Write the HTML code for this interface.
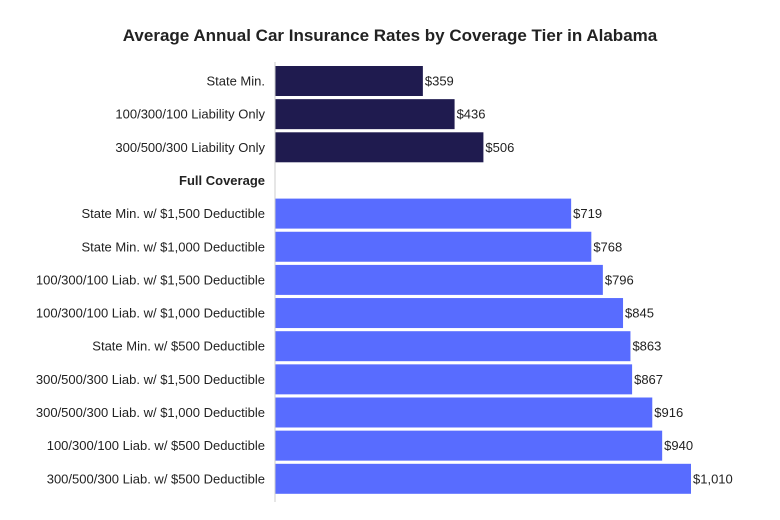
<!DOCTYPE html>
<html><head><meta charset="utf-8"><style>
body{margin:0;background:#fff;}
svg{display:block;font-family:"Liberation Sans",sans-serif;}
</style></head><body>
<svg id="chart" width="780" height="520">
<text x="390" y="41" text-anchor="middle" font-size="17" font-weight="bold" fill="#222">Average Annual Car Insurance Rates by Coverage Tier in Alabama</text>
<g id="bars"></g>
<line x1="275" y1="62" x2="275" y2="502" stroke="#ccc" stroke-width="1"/>
</svg>
<script>
const categories=["State Min.","100/300/100 Liability Only","300/500/300 Liability Only","Full Coverage","State Min. w/ $1,500 Deductible","State Min. w/ $1,000 Deductible","100/300/100 Liab. w/ $1,500 Deductible","100/300/100 Liab. w/ $1,000 Deductible","State Min. w/ $500 Deductible","300/500/300 Liab. w/ $1,500 Deductible","300/500/300 Liab. w/ $1,000 Deductible","100/300/100 Liab. w/ $500 Deductible","300/500/300 Liab. w/ $500 Deductible"];
const values=[359,436,506,null,719,768,796,845,863,867,916,940,1010];
const groups=["liability","liability","liability","header","full","full","full","full","full","full","full","full","full"];
const x0=275,xScale=v=>x0+v*(416/1010);
const yCenter=i=>81+i*33.15;
const g=document.getElementById('bars');
const ns="http://www.w3.org/2000/svg";
categories.forEach((c,i)=>{
  const t=document.createElementNS(ns,'text');
  
  
  t.setAttribute('x',265);t.setAttribute('y',yCenter(i)+4.5);
  t.setAttribute('text-anchor','end');
  t.setAttribute('font-size',groups[i]==='header'?'13':'13');
  if(groups[i]==='header'){t.setAttribute('font-weight','bold');}
  t.setAttribute('fill','#222');
  t.textContent=c;g.appendChild(t);
  const v=values[i];
  if(v==null)return;
  const r=document.createElementNS(ns,'rect');
  
  
  r.setAttribute('x',x0);r.setAttribute('y',yCenter(i)-15);
  r.setAttribute('width',xScale(v)-x0);r.setAttribute('height',30);
  r.setAttribute('fill',groups[i]==='liability'?'#1f1b4f':'#586cff');
  g.appendChild(r);
  const l=document.createElementNS(ns,'text');
  
  
  l.setAttribute('x',xScale(v)+2);l.setAttribute('y',yCenter(i)+4.5);
  l.setAttribute('font-size','13');l.setAttribute('fill','#222');
  l.textContent='$'+v.toLocaleString('en-US');
  g.appendChild(l);
});
</script>
</body></html>
